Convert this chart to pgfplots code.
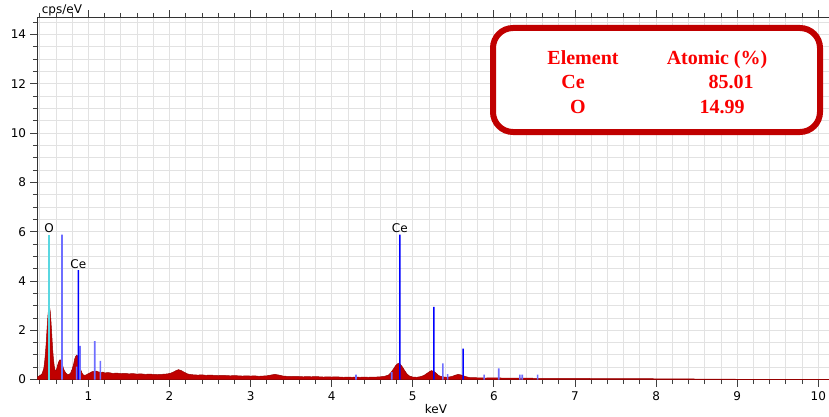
\documentclass[border=0pt]{standalone}
\usepackage{fontspec}
\setmainfont{DejaVu Sans}
\newfontfamily\tnr{Liberation Serif}
\usepackage{pgfplots}
\pgfplotsset{compat=1.18}

\definecolor{specred}{RGB}{192,0,0}
\definecolor{specedge}{RGB}{150,0,0}
\definecolor{linblue}{RGB}{0,0,255}
\definecolor{lightblue}{RGB}{110,110,255}
\definecolor{oline}{RGB}{90,215,225}
\definecolor{boxred}{RGB}{192,0,0}
\definecolor{txtred}{RGB}{250,0,0}
\definecolor{gridgray}{RGB}{226,226,226}

\begin{document}
\fontsize{12}{14}\selectfont
\begin{tikzpicture}[font=\fontsize{12}{14}\selectfont]
\begin{axis}[
  at={(0,0)},anchor=south west,
  scale only axis,width=797.2pt,height=362.2pt,
  xmin=0.37,xmax=10.2,ymin=0,ymax=14.7,
  xtick={1,...,10},ytick={0,2,...,14},
  minor xtick={0.4,0.6,...,10.2},minor ytick={0.5,1,...,14.5},
  grid=both,major grid style={gridgray,line width=0.8pt},
  minor grid style={gridgray,line width=0.8pt},
  tick align=outside,major tick length=7pt,minor tick length=4.5pt,
  every tick/.style={black!75,line width=0.8pt},
  axis line style={black!80,line width=1pt},
  xticklabel style={font=\fontsize{12}{14}\selectfont,yshift=-1pt},
  yticklabel style={font=\fontsize{12}{14}\selectfont},
  /pgf/number format/assume math mode=true,
  xlabel={keV},ylabel={cps/eV},
  every axis x label/.style={at={(rel axis cs:0.5,0)},anchor=base,inner sep=0pt,
    yshift=-33.5pt,font=\fontsize{12}{14}\selectfont},
  every axis y label/.style={at={(rel axis cs:0,1)},anchor=base west,inner sep=0pt,
    xshift=4.4pt,yshift=4pt,font=\fontsize{12}{14}\selectfont}]
\addplot[fill=specred,draw=specedge,line width=0.5pt] coordinates {
  (0.37,0.10) (0.39,0.14) (0.41,0.18) (0.43,0.24) (0.45,0.45) (0.46,0.70)
  (0.47,1.05) (0.48,1.50) (0.49,2.05) (0.50,2.55) (0.51,2.90) (0.52,2.98)
  (0.53,2.75) (0.54,2.30) (0.55,1.75) (0.56,1.20) (0.57,0.80) (0.58,0.52)
  (0.59,0.38) (0.60,0.36) (0.61,0.45) (0.62,0.57) (0.63,0.68) (0.64,0.76)
  (0.65,0.80) (0.66,0.78) (0.67,0.72) (0.68,0.60) (0.69,0.48) (0.70,0.38)
  (0.72,0.27) (0.74,0.21) (0.76,0.20) (0.78,0.26) (0.80,0.42) (0.82,0.65)
  (0.83,0.82) (0.84,0.92) (0.855,0.99) (0.87,0.95) (0.88,0.82) (0.89,0.62)
  (0.90,0.45) (0.92,0.27) (0.94,0.18) (0.96,0.17) (0.98,0.20) (1.00,0.24)
  (1.02,0.27) (1.04,0.31) (1.06,0.33) (1.08,0.32) (1.10,0.34) (1.12,0.31)
  (1.14,0.30) (1.16,0.29) (1.18,0.30) (1.20,0.27) (1.25,0.28) (1.30,0.25)
  (1.35,0.26) (1.40,0.24) (1.45,0.25) (1.50,0.23) (1.55,0.24) (1.60,0.22)
  (1.65,0.23) (1.70,0.21) (1.75,0.22) (1.80,0.21) (1.85,0.20) (1.90,0.21)
  (1.95,0.22) (2.00,0.24) (2.04,0.29) (2.08,0.36) (2.11,0.40) (2.14,0.37)
  (2.18,0.30) (2.22,0.23) (2.26,0.20) (2.30,0.19) (2.35,0.18) (2.40,0.19)
  (2.45,0.17) (2.50,0.18) (2.55,0.17) (2.60,0.16) (2.65,0.17) (2.70,0.16)
  (2.75,0.15) (2.80,0.16) (2.85,0.15) (2.90,0.14) (2.95,0.15) (3.00,0.14)
  (3.05,0.15) (3.10,0.13) (3.15,0.14) (3.20,0.15) (3.25,0.18) (3.30,0.21)
  (3.35,0.18) (3.40,0.14) (3.45,0.13) (3.50,0.12) (3.55,0.13) (3.60,0.12)
  (3.65,0.11) (3.70,0.12) (3.75,0.11) (3.80,0.12) (3.85,0.11) (3.90,0.10)
  (3.95,0.11) (4.00,0.10) (4.05,0.11) (4.10,0.10) (4.15,0.09) (4.20,0.10)
  (4.25,0.09) (4.30,0.10) (4.35,0.09) (4.40,0.10) (4.45,0.09) (4.50,0.10)
  (4.55,0.10) (4.60,0.11) (4.65,0.13) (4.70,0.18) (4.73,0.28) (4.76,0.42)
  (4.79,0.57) (4.82,0.66) (4.84,0.64) (4.87,0.52) (4.90,0.36) (4.93,0.22)
  (4.96,0.14) (5.00,0.10) (5.05,0.09) (5.10,0.12) (5.14,0.17) (5.18,0.26)
  (5.21,0.33) (5.23,0.36) (5.26,0.33) (5.29,0.25) (5.32,0.16) (5.36,0.11)
  (5.42,0.09) (5.48,0.12) (5.52,0.17) (5.56,0.21) (5.60,0.18) (5.65,0.12)
  (5.70,0.08) (5.80,0.07) (5.90,0.06) (6.00,0.07) (6.10,0.06) (6.30,0.06)
  (6.50,0.05) (6.80,0.05) (7.00,0.05) (7.20,0.04) (7.50,0.04) (8.00,0.03)
  (8.50,0.02) (9.00,0.01) (10.20,0.01)
} \closedcycle;
% line markers, drawn as narrow bars
\addplot[ybar,bar width=1.3pt,bar shift=0pt,fill=oline,draw=none] coordinates {(0.514,5.88)};
\addplot[ybar,bar width=1.6pt,bar shift=0pt,fill=lightblue,draw=none] coordinates {
  (0.675,5.88) (0.855,0.52) (0.897,1.36) (1.078,1.56) (1.147,0.76)
  (4.30,0.20) (4.74,0.30) (5.37,0.65) (5.43,0.22) (5.88,0.20) (6.06,0.45)
  (6.32,0.20) (6.35,0.20) (6.54,0.20)};
\addplot[ybar,bar width=1.6pt,bar shift=0pt,fill=linblue,draw=none] coordinates {
  (0.876,4.44) (4.84,5.88) (5.26,2.95) (5.62,1.25)};
\node[anchor=south,inner sep=1.5pt] at (axis cs:0.514,5.88) {O};
\node[anchor=south,inner sep=1.5pt] at (axis cs:0.876,4.44) {Ce};
\node[anchor=south,inner sep=1.5pt] at (axis cs:4.84,5.88) {Ce};
\end{axis}
% composition box and page frame, in reference pixel coordinates
\begin{scope}[x=1pt,y=-1pt,shift={(-37.3pt,379.5pt)}]
  \draw[boxred,line width=6pt,fill=white,rounded corners=20pt] (493,28) rectangle (820,132);
  \begin{scope}[every node/.style={text=txtred,font=\tnr\bfseries\fontsize{20}{24}\selectfont,inner sep=0pt,anchor=base}]
    \node at (583,64) {Element};
    \node at (717,64) {Atomic (\%)};
    \node at (573,88) {Ce};
    \node at (731,88) {85.01};
    \node at (578,113) {O};
    \node at (722,113) {14.99};
  \end{scope}
  \pgfresetboundingbox
  \path[use as bounding box] (0,0) rectangle (829,416);
\end{scope}
\end{tikzpicture}
\end{document}
